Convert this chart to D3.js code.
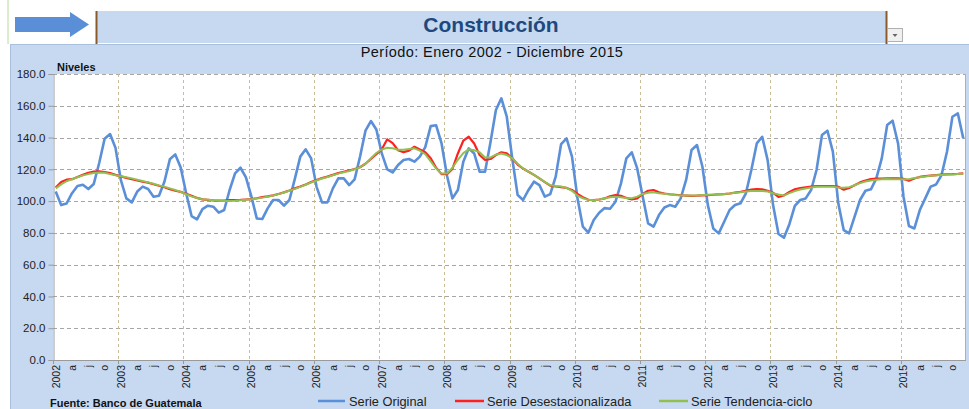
<!DOCTYPE html>
<html><head><meta charset="utf-8">
<script src="https://cdn.jsdelivr.net/npm/d3@7"></script>
<style>body{margin:0;background:#fff;}svg{display:block;font-family:Arial,"Liberation Sans",sans-serif;}</style>
</head><body>
<svg id="c" width="969" height="409"></svg>
<script>
const years = [2002,2003,2004,2005,2006,2007,2008,2009,2010,2011,2012,2013,2014,2015];
const monthLetters = ["", "a", "j", "o"]; // labels at Jan, Apr, Jul, Oct
const yTicks = [0,20,40,60,80,100,120,140,160,180];
const seriesNames = ["Serie Original","Serie Desestacionalizada","Serie Tendencia-ciclo"];

const original = [
106,97.5,98.5,105,109.5,110.3,107.6,110.8,124,139.3,142.2,133.5,
113,101.7,99.2,106,109.1,107.6,102.8,103.4,112.2,126.3,129.4,121.2,
105,90.6,88.5,95,97.1,96.5,92.7,94.4,107,117.5,121,115,
103,89.1,88.7,95.4,100.7,100.7,97.1,100.7,114,128,132.6,126.9,
109,99.2,99.2,108,114.3,114.3,110.1,113.7,128,144.3,150.4,145.1,
130,120,118.1,122.7,125.9,126.5,124.8,128,134,147.2,147.7,136.3,
116,101.7,107,124.8,133.2,130,118.5,118.5,137,157.3,164.7,153.1,
127,103.8,100.7,107,112.2,110.1,102.8,104.4,115.4,135.9,139.5,128,
102,83.9,80.1,88.1,92.7,95.6,95.2,99.6,111,126.9,130.7,120.6,
103,86,83.9,91.2,96,97.5,96.5,101.7,113.3,132.2,135.3,121.6,
97.5,82.8,79.7,87,94.4,97.5,98.6,104.9,119.6,136.3,140.5,125.8,
97.5,79.3,77,85.5,97,100.7,101.7,107,119.6,141.6,144.3,131.1,
98.6,81.8,79.7,90.2,100.7,106.5,107.4,114.3,126.9,147.9,150.6,136.3,
102.8,84.3,82.8,94.4,101.7,109.1,110.5,116.4,131.1,153.1,155.2,139.5];

const desest = [
108.6,112,113.5,113.8,115.2,116.5,117.8,118.6,118.7,118.3,117.6,116.5,
115.6,114.6,113.8,113,112.2,111.6,110.6,109.7,108.7,107.5,106.5,105.8,
104.6,103.3,102,101.1,100.8,100.5,100.3,100.4,100.7,100.7,100.8,101,
101.2,101.8,102.5,103,103.6,104.5,105.5,106.7,108,109.2,110.5,112,
113.3,114.5,115.4,116.5,117.6,118.5,119.3,120.2,121.3,123.5,126.5,129.5,
132.6,138.9,136.5,132,130.8,131.8,134.2,132.5,130.8,127,121,117,
117,120.3,130,138,140.5,136.3,129,126,126.5,129,130.7,130,
127,123,120.5,118.5,116.5,114.3,112,109.7,109.2,108.8,108.3,107,
104.5,102.5,100.8,100.6,101,101.7,103,103.8,103.3,102,101.1,101.7,
104.5,106.5,107,105.5,104.8,104.3,104,103.7,103.5,103.3,103.4,103.6,
103.8,104,104.2,104.4,104.8,105.3,105.8,106.5,107.2,107.5,107.4,106.5,
105.2,102.6,103.6,105.8,107.4,108.2,108.7,109.1,109.4,109.5,109.5,109.5,
109,107.2,108.3,110,111.8,113,113.8,114.1,114.2,114.3,114.3,114.3,
114,112.8,114.2,115.2,115.7,116.1,116.4,116.7,116.9,117,117.2,117.5];

const tendencia = [
108,110.5,112.5,113.8,115,116.2,117,117.7,118,117.8,117,116.3,
115.7,115,114.3,113.5,112.7,111.8,110.9,109.9,109,108,107,105.8,
104.3,103,102,101.1,100.8,100.5,100.2,100,100,100.2,100.5,100.8,
101.1,101.6,102.2,102.8,103.5,104.4,105.4,106.5,107.7,109,110.3,111.7,
113,114.2,115.2,116.3,117.3,118.2,119,120,121.3,123.5,127,130.3,
132.5,133.6,133.3,132.3,132.3,132.8,133.2,131.8,129.5,125,120.5,117.3,
117.3,121,126,130.2,132.6,132,130.8,127.5,127.5,129.2,130,129,
127,123.5,120.5,118.6,116.5,114.3,112,110,109.5,109.2,108.3,106.5,
103.5,101.8,100.8,100.6,101,101.7,102.4,102.8,102.5,102,101.8,102.8,
104.5,105.3,105.5,105,104.6,104.2,103.8,103.6,103.5,103.5,103.6,103.8,
104,104.1,104.3,104.5,104.8,105.2,105.6,106,106.3,106.3,106.3,106,
105,104.2,103.5,105,106.3,107.3,108,108.5,109,109,109,109,
108.6,108.4,108.8,110,111.3,112.3,113,113.4,113.7,113.9,113.8,113.7,
113.7,113.8,114.5,115,115.5,116,116.2,116.4,116.6,116.8,117,117.2];

const months = d3.range(years.length * 12);
const svg = d3.select("#c");

svg.append("rect").attr("x",0).attr("y",0).attr("width",969).attr("height",409).attr("fill","#fff");
svg.append("line").attr("x1",8).attr("x2",8).attr("y1",0).attr("y2",44).attr("stroke","#b6dca0").attr("stroke-width",1);

// header arrow
svg.append("path")
  .attr("d","M15,17 L70,17 L70,12 L89,24.5 L70,37 L70,32 L15,32 Z")
  .attr("fill","#5a8fd8");

// header box
svg.append("rect").attr("x",96).attr("y",11).attr("width",791).attr("height",32).attr("fill","#c6d9f1");
svg.append("line").attr("x1",96.5).attr("x2",96.5).attr("y1",11).attr("y2",44).attr("stroke","#8a5a2a").attr("stroke-width",2);
svg.append("line").attr("x1",886.5).attr("x2",886.5).attr("y1",11).attr("y2",44).attr("stroke","#8a5a2a").attr("stroke-width",2);
svg.append("text").attr("x",491).attr("y",32).attr("text-anchor","middle")
  .attr("font-size",21).attr("font-weight","bold").attr("fill","#1f497d").text("Construcción");
// dropdown
svg.append("rect").attr("x",887.5).attr("y",28.5).attr("width",15).attr("height",13).attr("fill","#f0f0f0").attr("stroke","#b0b0b0");
svg.append("path").attr("d","M892.5,34 L897.5,34 L895,37 Z").attr("fill","#666");

// chart area
svg.append("rect").attr("x",10).attr("y",44).attr("width",959).attr("height",365).attr("fill","#c6d9f1");
svg.append("line").attr("x1",10).attr("x2",969).attr("y1",44.5).attr("y2",44.5).attr("stroke","#a9bfdc");
svg.append("line").attr("x1",10.5).attr("x2",10.5).attr("y1",44).attr("y2",409).attr("stroke","#a9bfdc");

svg.append("text").attr("x",492).attr("y",57).attr("text-anchor","middle")
  .attr("font-size",14.5).attr("letter-spacing",0.4).attr("fill","#111").text("Período: Enero 2002 - Diciembre 2015");
svg.append("text").attr("x",57).attr("y",71).attr("font-size",11).attr("font-weight","bold").attr("fill","#111").text("Niveles");

const L=53, R=966, T=74, B=360;
const x = d3.scaleBand().domain(months).range([L,R]).paddingInner(0).paddingOuter(0);
const xc = i => x(i) + x.bandwidth()/2;
const y = d3.scaleLinear().domain([0,180]).range([B,T]);

svg.append("rect").attr("x",L).attr("y",T).attr("width",R-L).attr("height",B-T).attr("fill","#fff");

// horizontal grid
svg.append("g").selectAll("line").data(yTicks.filter(d=>d>0)).join("line")
  .attr("x1",L).attr("x2",R).attr("y1",d=>Math.round(y(d))+0.5).attr("y2",d=>Math.round(y(d))+0.5)
  .attr("stroke","#a6a6a6").attr("stroke-dasharray","4,3").attr("stroke-width",1);
// vertical grid at year boundaries
svg.append("g").selectAll("line").data(years.slice(1)).join("line")
  .attr("x1",(d,k)=>Math.round(x((k+1)*12))+0.5).attr("x2",(d,k)=>Math.round(x((k+1)*12))+0.5)
  .attr("y1",T).attr("y2",B)
  .attr("stroke","#c9bd98").attr("stroke-dasharray","3,3").attr("stroke-width",1);

// y axis
const yAxis = d3.axisLeft(y).tickValues(yTicks).tickSize(5).tickFormat(d3.format(".1f"));
const gy = svg.append("g").attr("transform",`translate(${L+0.5},0)`).call(yAxis);
gy.select(".domain").attr("stroke","#9a9a9a");
gy.selectAll(".tick line").attr("stroke","#9a9a9a");
gy.selectAll(".tick text").attr("font-size",11.5).attr("fill","#222").attr("font-family","Arial,'Liberation Sans',sans-serif").attr("x",-8);

// x axis line and right border
svg.append("line").attr("x1",L).attr("x2",R).attr("y1",B+0.5).attr("y2",B+0.5).attr("stroke","#9a9a9a");
svg.append("line").attr("x1",R-0.5).attr("x2",R-0.5).attr("y1",T).attr("y2",B).attr("stroke","#b0b0b0");

// x tick marks at year boundaries
svg.append("g").selectAll("line").data(years).join("line")
  .attr("x1",(d,k)=>Math.round(x(k*12))+0.5).attr("x2",(d,k)=>Math.round(x(k*12))+0.5)
  .attr("y1",B).attr("y2",B+4).attr("stroke","#9a9a9a");

// x labels (rotated)
const xlab = [];
years.forEach((yr,k)=>{ [0,3,6,9].forEach((m,j)=>{ xlab.push({i:k*12+m, t: j===0? String(yr) : monthLetters[j]}); }); });
svg.append("g").selectAll("text").data(xlab).join("text")
  .attr("transform",d=>`translate(${xc(d.i)+3.8},${B+5}) rotate(-90)`)
  .attr("text-anchor","end").attr("font-size",10.5).attr("fill","#222").text(d=>d.t);

// lines (straight segments)
const line = d3.line().x((d,i)=>xc(i)).y(d=>y(d));
svg.append("path").datum(original).attr("d",line).attr("fill","none").attr("stroke","#5b8fd8").attr("stroke-width",2.6).attr("stroke-linejoin","round");
svg.append("path").datum(desest).attr("d",line).attr("fill","none").attr("stroke","#ff2020").attr("stroke-width",2.2).attr("stroke-linejoin","round");
svg.append("path").datum(tendencia).attr("d",line).attr("fill","none").attr("stroke","#92c050").attr("stroke-width",2).attr("stroke-linejoin","round");

// legend
const legend = [
  {name:seriesNames[0], color:"#5b8fd8", x1:318, x2:345, tx:349},
  {name:seriesNames[1], color:"#ff2020", x1:455, x2:484, tx:487},
  {name:seriesNames[2], color:"#92c050", x1:659, x2:688, tx:691}];
const lg = svg.append("g").selectAll("g").data(legend).join("g");
lg.append("line").attr("x1",d=>d.x1).attr("x2",d=>d.x2).attr("y1",401).attr("y2",401).attr("stroke",d=>d.color).attr("stroke-width",2.5);
lg.append("text").attr("x",d=>d.tx).attr("y",405.5).attr("font-size",12.8).attr("fill","#222").text(d=>d.name);

svg.append("text").attr("x",50).attr("y",407).attr("font-size",11).attr("font-weight","bold").attr("fill","#111").text("Fuente: Banco de Guatemala");
</script>
</body></html>
